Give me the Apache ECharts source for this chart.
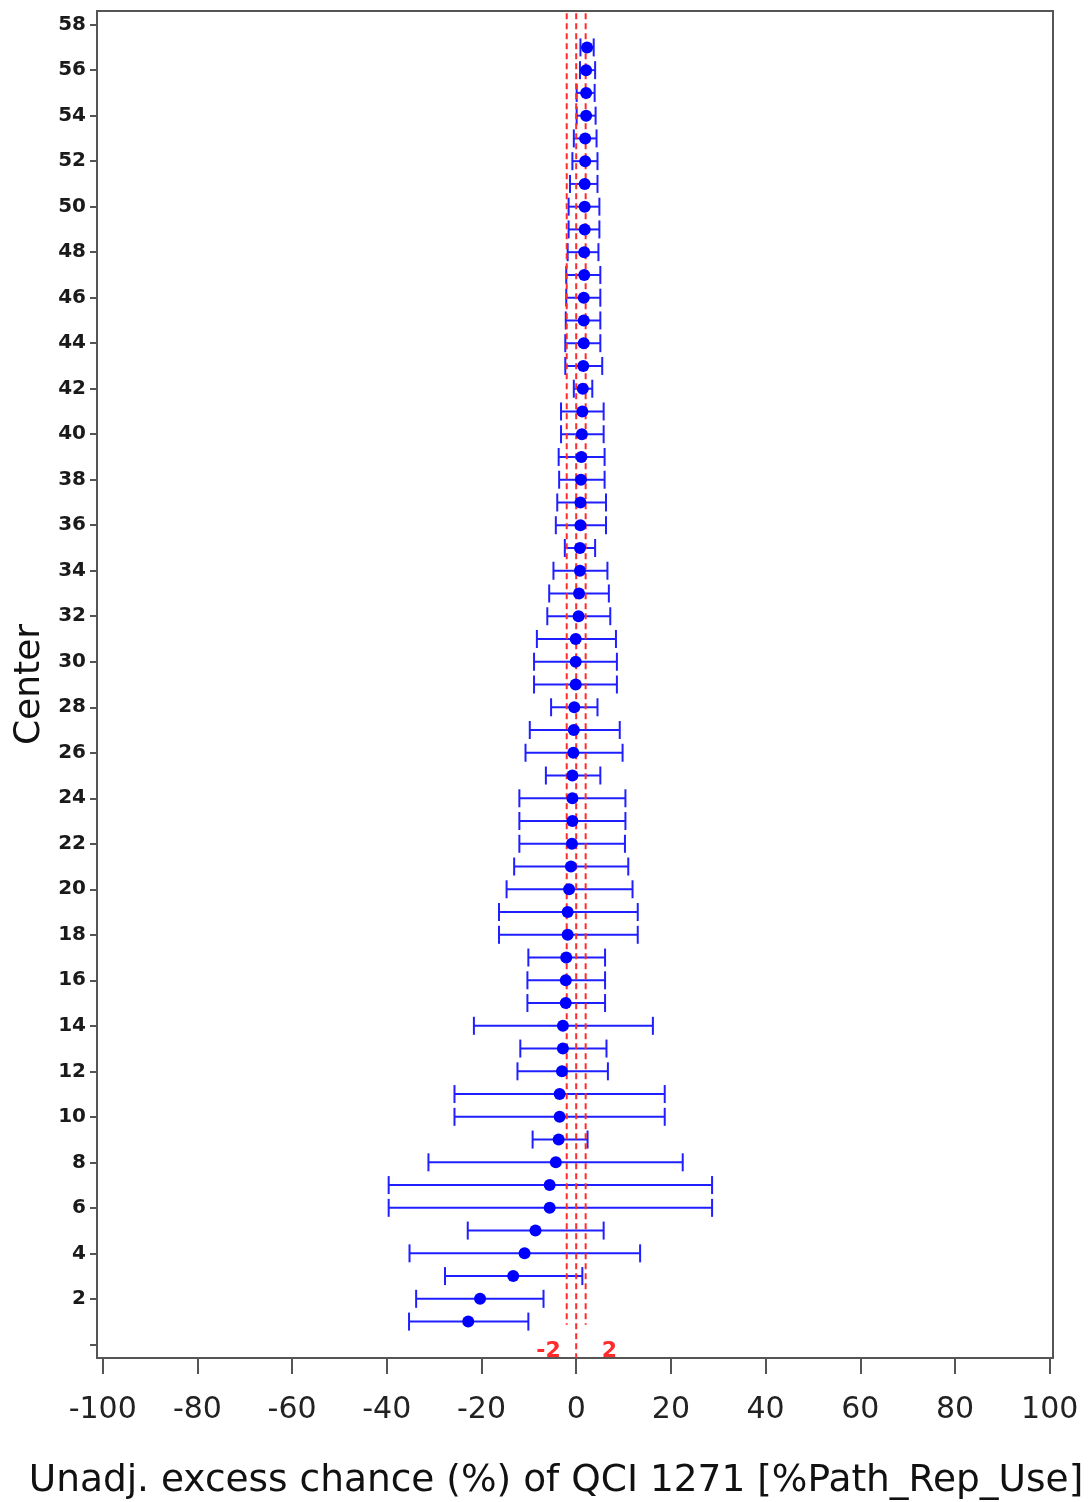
<!DOCTYPE html>
<html>
<head>
<meta charset="utf-8">
<script src="https://cdn.jsdelivr.net/npm/echarts@6/dist/echarts.min.js"></script>
<style>
  html, body { margin: 0; padding: 0; background: #ffffff; }
  #chart { width: 1092px; height: 1502px; }
</style>
</head>
<body>
<div id="chart"></div>
<script>
// Per-center estimates of unadjusted excess chance (%) with confidence limits
const centers = [1, 2, 3, 4, 5, 6, 7, 8, 9, 10, 11, 12, 13, 14, 15, 16, 17, 18, 19, 20,
  21, 22, 23, 24, 25, 26, 27, 28, 29, 30, 31, 32, 33, 34, 35, 36, 37, 38, 39, 40,
  41, 42, 43, 44, 45, 46, 47, 48, 49, 50, 51, 52, 53, 54, 55, 56, 57];

const estimate = [-22.8, -20.3, -13.3, -10.9, -8.6, -5.6, -5.6, -4.3, -3.7, -3.5,
  -3.5, -3.0, -2.8, -2.8, -2.2, -2.2, -2.1, -1.8, -1.8, -1.5,
  -1.1, -0.9, -0.8, -0.8, -0.8, -0.6, -0.5, -0.4, -0.1, -0.1,
  -0.1, 0.5, 0.6, 0.8, 0.8, 0.9, 0.9, 1.0, 1.1, 1.2,
  1.3, 1.4, 1.5, 1.6, 1.6, 1.6, 1.7, 1.7, 1.8, 1.8,
  1.8, 1.9, 1.9, 2.1, 2.1, 2.1, 2.3];

const lower = [-35.3, -33.8, -27.7, -35.2, -22.9, -39.6, -39.6, -31.2, -9.2, -25.7,
  -25.7, -12.4, -11.8, -21.6, -10.3, -10.3, -10.1, -16.3, -16.3, -14.7,
  -13.1, -12.0, -12.0, -12.0, -6.4, -10.7, -9.8, -5.3, -8.9, -8.9,
  -8.3, -6.1, -5.7, -4.8, -2.4, -4.3, -4.0, -3.6, -3.7, -3.2,
  -3.2, -0.5, -2.3, -2.3, -2.2, -2.1, -2.1, -1.8, -1.6, -1.6,
  -1.3, -0.8, -0.5, 0.1, 0.1, 0.8, 0.9];

const upper = [-10.1, -6.9, 1.3, 13.5, 5.8, 28.7, 28.7, 22.5, 2.4, 18.7,
  18.7, 6.7, 6.4, 16.2, 6.1, 6.1, 6.1, 13.0, 13.0, 11.9,
  11.0, 10.3, 10.4, 10.4, 5.1, 9.8, 9.2, 4.5, 8.6, 8.6,
  8.4, 7.2, 6.9, 6.6, 4.0, 6.3, 6.3, 6.0, 6.0, 5.8,
  5.8, 3.4, 5.5, 5.1, 5.1, 5.1, 5.1, 4.7, 4.9, 4.9,
  4.5, 4.5, 4.3, 4.1, 3.9, 4.0, 3.7];

// Reference lines and their labels
const refValues = [-2, 0, 2];
const refLabels = ['-2', '', '2'];

// Axis tick values
const xTicks = [-100, -80, -60, -40, -20, 0, 20, 40, 60, 80, 100];
const yTicks = [0, 2, 4, 6, 8, 10, 12, 14, 16, 18, 20, 22, 24, 26, 28, 30, 32, 34, 36, 38,
  40, 42, 44, 46, 48, 50, 52, 54, 56, 58];

const FONT = 'DejaVu Sans';
const BAR_COLOR = '#1f1fff';
const REF_COLOR = '#ff2a2a';

const chart = echarts.init(document.getElementById('chart'), null, { renderer: 'canvas' });

const barData = centers.map((c, i) => [c, lower[i], upper[i]]);
const dotData = centers.map((c, i) => [estimate[i], c]);
const refData = refValues.map((v, i) => [v, i]);

const option = {
  backgroundColor: '#ffffff',
  animation: false,
  grid: {
    left: 97, right: 39, top: 11, bottom: 144,
    outerBoundsMode: 'none',
    containLabel: false,
    show: true, borderColor: '#555555', borderWidth: 2, backgroundColor: 'transparent'
  },
  xAxis: {
    type: 'value',
    min: -101.2, max: 100.7,
    name: 'Unadj. excess chance (%) of QCI 1271 [%Path_Rep_Use]',
    nameLocation: 'middle',
    nameGap: 104,
    nameTextStyle: { fontFamily: FONT, fontSize: 37.5, color: '#111111', padding: [0, 38, 0, 0] },
    axisLine: { show: true, onZero: false, lineStyle: { color: '#555555', width: 2 } },
    axisTick: { show: true, length: 16, lineStyle: { color: '#555555', width: 2 }, customValues: xTicks },
    axisLabel: { fontFamily: FONT, fontSize: 30, color: '#222222', margin: 37, customValues: xTicks },
    splitLine: { show: false }
  },
  yAxis: {
    type: 'value',
    min: -0.6, max: 58.6,
    name: 'Center',
    nameLocation: 'middle',
    nameGap: 49,
    nameRotate: 90,
    nameTextStyle: { fontFamily: FONT, fontSize: 36, color: '#111111' },
    axisLine: { show: true, onZero: false, lineStyle: { color: '#555555', width: 2 } },
    axisTick: { show: true, length: 7, lineStyle: { color: '#555555', width: 2 }, customValues: yTicks },
    axisLabel: {
      fontFamily: FONT, fontSize: 20, fontWeight: 'bold', color: '#1a1a1a', margin: 11,
      customValues: yTicks,
      formatter: v => (v === 0 ? '' : String(v))
    },
    splitLine: { show: false }
  },
  series: [
    {
      // confidence interval whiskers with end caps
      type: 'custom',
      data: barData,
      encode: { x: [1, 2], y: 0 },
      z: 2,
      renderItem: function (params, api) {
        const c = api.value(0);
        const p1 = api.coord([api.value(1), c]);
        const p2 = api.coord([api.value(2), c]);
        const cap = 9;
        const style = { stroke: BAR_COLOR, lineWidth: 2 };
        return {
          type: 'group',
          children: [
            { type: 'line', shape: { x1: p1[0], y1: p1[1], x2: p2[0], y2: p2[1] }, style: style },
            { type: 'line', shape: { x1: p1[0], y1: p1[1] - cap, x2: p1[0], y2: p1[1] + cap }, style: style },
            { type: 'line', shape: { x1: p2[0], y1: p2[1] - cap, x2: p2[0], y2: p2[1] + cap }, style: style }
          ]
        };
      }
    },
    {
      // dashed reference lines at -2, 0 and 2 with their labels
      type: 'custom',
      data: refData,
      encode: { x: 0 },
      z: 3,
      renderItem: function (params, api) {
        const v = api.value(0);
        const idx = api.value(1);
        const top = api.coord([v, 58.5]);
        const bottom = api.coord([v, v === 0 ? -0.6 : 0.86]);
        const children = [{
          type: 'line',
          shape: { x1: top[0], y1: top[1], x2: bottom[0], y2: bottom[1] },
          style: { stroke: REF_COLOR, lineWidth: 2, lineDash: [6, 4] }
        }];
        const txt = refLabels[idx];
        if (txt) {
          const base = api.coord([v, -0.6]);
          children.push({
            type: 'text',
            x: v < 0 ? base[0] - 6 : base[0] + 16,
            y: base[1] + 4,
            style: {
              text: txt, fill: REF_COLOR, font: 'bold 22px "' + FONT + '"',
              align: v < 0 ? 'right' : 'left', verticalAlign: 'bottom'
            }
          });
        }
        return { type: 'group', children: children };
      }
    },
    {
      // point estimates
      type: 'scatter',
      data: dotData,
      symbol: 'circle',
      symbolSize: 12,
      itemStyle: { color: '#0000ff', opacity: 1 },
      z: 4
    }
  ]
};

chart.setOption(option);
</script>
</body>
</html>
